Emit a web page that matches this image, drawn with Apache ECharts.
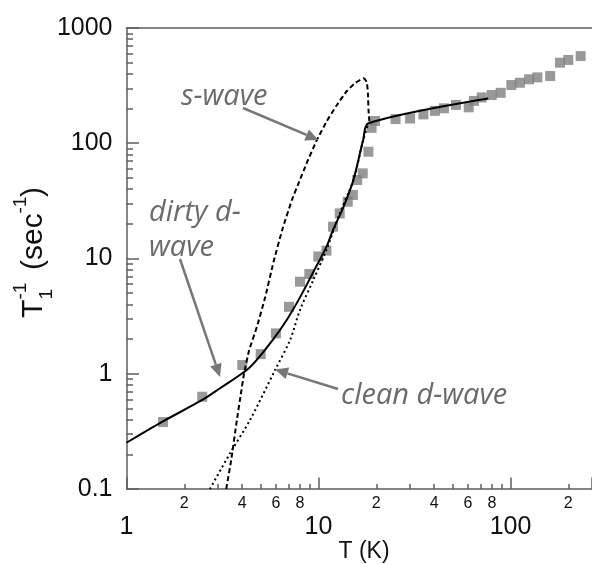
<!DOCTYPE html>
<html><head><meta charset="utf-8">
<script src="https://cdn.jsdelivr.net/npm/echarts@6/dist/echarts.min.js"></script>
<style>html,body{margin:0;padding:0;background:#fff}#c{width:592px;height:564px}</style>
</head><body><div id="c"></div>
<script>
// measured data (T in K, 1/T1 in 1/sec)
const dataT    = [1.55,2.48,4.01,5.0,6.0,7.02,8.01,8.96,9.98,11.0,11.9,12.9,14.2,15.1,15.9,17.0,18.2,18.9,19.7,25.2,30.0,35.2,40.4,45.0,52,60.6,64.5,70.8,79.8,88.9,101,112,125,138,161,181,200,232];
const dataRate = [0.381,0.632,1.19,1.48,2.24,3.81,6.29,7.34,10.4,11.7,18.9,24.6,31.1,35.6,48,54.8,84.4,136,156,162,164,178,191,201,215,205,233,250,262,274,320,335,359,373,383,500,528,571];
// dirty d-wave (solid)
const dirtyT    = [1.0,1.54,2.48,3.07,4.23,4.77,5.82,6.83,8.01,9.4,11.0,11.9,13.5,15.2,17.1,18.2,76.6];
const dirtyRate = [0.252,0.384,0.592,0.748,1.078,1.32,2.00,2.93,4.6,7.64,12.6,17.7,28.1,48,107,149,245];
// clean d-wave (dotted)
const cleanT    = [2.72,3.46,4.40,5.94,7.11,8.01,9.4,11.0,12.9,15.2,17.1,18.2];
const cleanRate = [0.1,0.204,0.397,1.078,1.96,3.57,6.51,11.9,24.7,48,107,149];
// s-wave (dashed)
const sWaveT    = [3.306,3.51,3.758,3.934,4.10,4.356,4.78,5.28,5.83,6.47,7.27,7.87,8.73,9.81,11.06,12.37,14.06,15.53,17.15,17.82,18.09,18.22,18.44];
const sWaveRate = [0.1,0.1785,0.397,0.654,1.015,1.607,2.56,4.63,9.32,17.7,32.2,44.9,68.8,106.7,156,210.5,284,333,366,340,273,194,149];
// axis tick labels
const xMajorLabels = [1,10,100];
const xMinorLabels = [2,4,6,8,20,40,60,80,200];
const yLabels = [0.1,1,10,100,1000];

const zip = (a,b) => a.map((v,i)=>[v,b[i]]);
const AX = '#5e5e5e';
const xMin = 1, xMax = 265.8, yMin = 0.1, yMax = 1000;
const chart = echarts.init(document.getElementById('c'), null, {renderer:'canvas'});

function firstDigit(v){ const p = Math.pow(10, Math.floor(Math.log10(v)+1e-9)); return String(Math.round(v/p)); }
function fmtY(v){ const r = Math.round(v*10)/10; return r < 1 ? '0.1' : String(Math.round(r)); }

function arrow(x1,y1,x2,y2){
  const ang = Math.atan2(y2-y1,x2-x1), L=13, W=6;
  const bx = x2 - L*Math.cos(ang), by = y2 - L*Math.sin(ang);
  const nx = -Math.sin(ang), ny = Math.cos(ang);
  return [
    {type:'line', shape:{x1:x1,y1:y1,x2:bx,y2:by}, style:{stroke:'#777',lineWidth:2.5}, z:50},
    {type:'polygon', shape:{points:[[x2,y2],[bx+nx*W,by+ny*W],[bx-nx*W,by-ny*W]]}, style:{fill:'#777'}, z:50}
  ];
}
const annoFont = 'italic 29px "Open Sans"';
const tx = (text,x,y) => ({type:'text', x:x, y:y, z:50, style:{text:text, font:annoFont, fill:'#6b6b6b', textVerticalAlign:'middle'}});
const sub = (t,x,y,size) => ({type:'text', x:x, y:y, style:{text:t, font: size+'px "Liberation Sans"', fill:'#111', textVerticalAlign:'middle'}});

chart.setOption({
  animation:false,
  backgroundColor:'#fff',
  grid:{left:126.5, top:28, width:465.5, height:461, outerBoundsMode:'none', containLabel:false},
  xAxis:[
    {type:'log', logBase:10, min:xMin, max:xMax, position:'bottom',
     axisLine:{show:true, lineStyle:{color:AX, width:1.5}},
     axisTick:{show:true, inside:true, length:11.5, lineStyle:{color:AX, width:1.5}},
     minorTick:{show:true, splitNumber:9, length:5, lineStyle:{color:AX, width:1.5}},
     axisLabel:{show:true, margin:7, color:'#111', fontSize:16, fontFamily:'Liberation Sans', customValues:xMinorLabels, formatter:firstDigit},
     splitLine:{show:false}, minorSplitLine:{show:false}},
    {type:'log', min:xMin, max:xMax, position:'bottom',
     axisLine:{show:false}, axisTick:{show:false},
     axisLabel:{show:true, margin:26, color:'#111', fontSize:25, fontFamily:'Liberation Sans', customValues:xMajorLabels, formatter:v=>String(Math.round(v))},
     splitLine:{show:false}},
    {type:'log', min:xMin, max:xMax, position:'top',
     axisLine:{show:true, lineStyle:{color:AX, width:1.5}},
     axisTick:{show:false}, axisLabel:{show:false}, splitLine:{show:false}}
  ],
  yAxis:[
    {type:'log', logBase:10, min:yMin, max:yMax, position:'left',
     axisLine:{show:true, lineStyle:{color:AX, width:1.5}},
     axisTick:{show:true, inside:true, length:12.5, lineStyle:{color:AX, width:1.5}},
     minorTick:{show:true, splitNumber:9, length:6.5, lineStyle:{color:AX, width:1.5}},
     axisLabel:{show:true, margin:14, color:'#111', fontSize:25, fontFamily:'Liberation Sans', customValues:yLabels, formatter:fmtY},
     splitLine:{show:false}, minorSplitLine:{show:false}}
  ],
  series:[
    {type:'scatter', name:'data', symbol:'rect', symbolSize:10,
     itemStyle:{color:'#808080'}, data:zip(dataT,dataRate), z:2},
    {type:'line', name:'dirty d-wave', showSymbol:false, smooth:0.3,
     lineStyle:{color:'#000', width:2}, data:zip(dirtyT,dirtyRate), z:3},
    {type:'line', name:'clean d-wave', showSymbol:false, smooth:0.3,
     lineStyle:{color:'#000', width:2, type:[2,3]}, data:zip(cleanT,cleanRate), z:3},
    {type:'line', name:'s-wave', showSymbol:false, smooth:0.15,
     lineStyle:{color:'#000', width:2, type:[5,3]}, data:zip(sWaveT,sWaveRate), z:3}
  ],
  graphic:[
    tx('s-wave',181,97),
    tx('dirty d-',149,213),
    tx('wave',149,248),
    tx('clean d-wave',341,396),
    ...arrow(243,108,318.5,140),
    ...arrow(180,259,220,377),
    ...arrow(338,389,275,369.5),
    {type:'text', x:364, y:552, style:{text:'T (K)', font:'23px "Liberation Sans"', fill:'#111', textAlign:'center', textVerticalAlign:'middle'}},
    {type:'group', x:43, y:318, rotation:Math.PI/2, children:[
      sub('T',0,-9.5,30),
      sub('1',18.5,4,19),
      sub('-1',18.5,-22,19),
      sub('(sec',48,-9.5,30),
      sub('-1',104.5,-22,19),
      sub(')',121,-9.5,30)
    ]}
  ]
});
</script></body></html>
